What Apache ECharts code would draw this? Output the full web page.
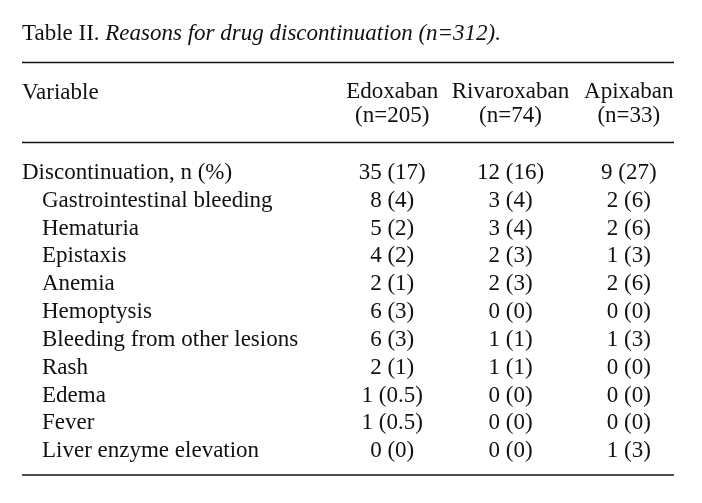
<!DOCTYPE html>
<html><head><meta charset="utf-8">
<script src="https://cdn.jsdelivr.net/npm/echarts@6/dist/echarts.min.js"></script>
<style>html,body{margin:0;padding:0;background:#fff}#c{width:702px;height:503px}</style>
</head><body><div id="c"></div>
<script>
const rows = ['Discontinuation, n (%)','Gastrointestinal bleeding','Hematuria','Epistaxis','Anemia','Hemoptysis','Bleeding from other lesions','Rash','Edema','Fever','Liver enzyme elevation'];
const drugs = ['Edoxaban','Rivaroxaban','Apixaban'];
const drugN = [205, 74, 33];
const edoxabanN = [35,8,5,4,2,6,6,2,1,1,0];
const edoxabanPct = [17,4,2,2,1,3,3,1,0.5,0.5,0];
const rivaroxabanN = [12,3,3,2,2,0,1,1,0,0,0];
const rivaroxabanPct = [16,4,4,3,3,0,1,1,0,0,0];
const apixabanN = [9,2,2,1,2,0,1,0,0,0,1];
const apixabanPct = [27,6,6,3,6,0,3,0,0,0,3];

const FONT = '"Liberation Serif","Times New Roman",serif';
const FS = 23;
const INK = '#111';
const colN = [edoxabanN, rivaroxabanN, apixabanN];
const colP = [edoxabanPct, rivaroxabanPct, apixabanPct];

const series = drugs.map((d, j) => ({
  type: 'scatter',
  symbolSize: 0,
  itemStyle: {color: INK, opacity: 1},
  silent: true,
  data: rows.map((r, i) => ({value: [d, r], txt: colN[j][i] + ' (' + colP[j][i] + ')'})),
  label: {
    show: true, position: 'inside', color: INK, opacity: 1, fontFamily: FONT, fontSize: FS,
    textBorderWidth: 0, textBorderColor: 'transparent',
    formatter: p => p.data.txt
  },
  labelLayout: {hideOverlap: false}
}));

const chart = echarts.init(document.getElementById('c'), null, {renderer: 'canvas'});
chart.setOption({
  animation: false,
  backgroundColor: '#fff',
  title: [{
    left: 17, top: 17,
    text: '{a|Table II. }{b|Reasons for drug discontinuation (n=312).}',
    textStyle: {
      fontWeight: 'normal',
      rich: {
        a: {fontFamily: FONT, fontSize: FS, color: INK, fontStyle: 'normal', fontWeight: 'normal'},
        b: {fontFamily: FONT, fontSize: FS, color: INK, fontStyle: 'italic', fontWeight: 'normal'}
      }
    }
  }, {
    left: 17, top: 76,
    text: 'Variable',
    textStyle: {fontFamily: FONT, fontSize: FS, color: INK, fontWeight: 'normal'}
  }],
  grid: {left: 333, right: 14, top: 159, bottom: 38},
  xAxis: {
    type: 'category', position: 'top', data: drugs,
    axisLine: {show: false}, axisTick: {show: false}, splitLine: {show: false},
    axisLabel: {
      interval: 0, margin: 31, color: INK, fontFamily: FONT, fontSize: FS, lineHeight: 24,
      formatter: (v, i) => v + '\n(n=' + drugN[i] + ')'
    }
  },
  yAxis: {
    type: 'category', inverse: true, data: rows,
    axisLine: {show: false}, axisTick: {show: false}, splitLine: {show: false},
    axisLabel: {
      interval: 0, margin: 311, align: 'left', color: INK, fontFamily: FONT, fontSize: FS,
      formatter: (v, i) => i === 0 ? '{m|' + v + '}' : '{s|' + v + '}',
      rich: {
        m: {fontFamily: FONT, fontSize: FS, color: INK},
        s: {fontFamily: FONT, fontSize: FS, color: INK, padding: [0, 0, 0, 20]}
      }
    }
  },
  graphic: [
    {type: 'line', shape: {x1: 22, y1: 62.5, x2: 674, y2: 62.5}, style: {stroke: INK, lineWidth: 1.5}},
    {type: 'line', shape: {x1: 22, y1: 142.5, x2: 674, y2: 142.5}, style: {stroke: INK, lineWidth: 1.5}},
    {type: 'line', shape: {x1: 22, y1: 475, x2: 674, y2: 475}, style: {stroke: INK, lineWidth: 1.5}}
  ],
  series: series
});
</script></body></html>
